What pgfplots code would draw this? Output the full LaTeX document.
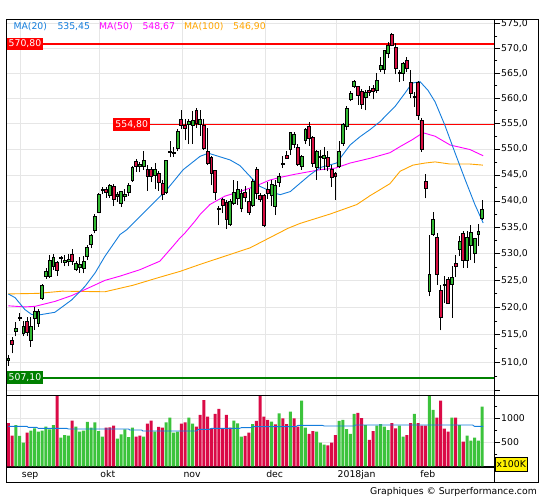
\documentclass[border=0pt]{standalone}
\usepackage{fontspec}
\setmainfont{DejaVu Sans}
\usepackage{pgfplots}
\pgfplotsset{compat=1.18}
\definecolor{cg}{RGB}{50,185,50}
\definecolor{cr}{RGB}{215,15,65}
\definecolor{vg}{RGB}{60,195,60}
\definecolor{vr}{RGB}{218,10,70}
\definecolor{ma20}{RGB}{20,125,220}
\definecolor{ma50}{RGB}{255,0,255}
\definecolor{ma100}{RGB}{255,165,0}
\definecolor{gridc}{RGB}{230,230,230}
\definecolor{lvlred}{RGB}{255,0,0}
\definecolor{lvlgreen}{RGB}{0,128,0}
\newcommand\tf{\fontsize{9.3}{11}\selectfont}
\newcommand\candle[6]{%
 \pgfmathsetmacro\xl{#1-0.38}\pgfmathsetmacro\xr{#1+0.38}%
 \addplot[black, line width=0.8pt] coordinates {(#1,#4) (#1,#3)};
 \addplot[draw=black, line width=0.7pt, fill=#6] coordinates {(\xl,#2) (\xr,#2) (\xr,#5) (\xl,#5)} -- cycle;
}
\begin{document}
\begin{tikzpicture}[x=1pt,y=1pt]
\path[use as bounding box] (0,0) rectangle (545,500);
% ---------------- price panel (logarithmic price scale) ----------------
\begin{axis}[at={(6.5pt,104.7pt)}, anchor=south west, scale only axis,
 width=487.8pt, height=376pt,
 y coord trafo/.code={\pgfmathparse{ln(#1)-6.3}},
 scaled y ticks=false,
 xmin=-0.479, xmax=129.26, ymin=504.15, ymax=575.88,
 axis line style={line width=1.2pt},
 xtick={3.3,24.2,46.3,68.3,87.3,109.3}, xticklabels={}, xmajorgrids,
 major x tick style={draw=none},
 ytick={505,510,515,520,525,530,535,540,545,550,555,560,565,570,575},
 yticklabels={{},{510,0},{515,0},{520,0},{525,0},{530,0},{535,0},{540,0},{545,0},{550,0},{555,0},{560,0},{565,0},{570,0},{575,0}},
 minor ytick={507.5,512.5,517.5,522.5,527.5,532.5,537.5,542.5,547.5,552.5,557.5,562.5,567.5,572.5},
 ymajorgrids, ytick pos=right, yticklabel pos=right, ytick align=outside,
 major tick length=5.7pt, minor tick length=3pt,
 tick style={black, line width=0.8pt},
 grid style={gridc, line width=0.8pt},
 yticklabel style={font=\tf, anchor=west, inner sep=1pt},
 clip=true]
\addplot[lvlred, line width=2.2pt] coordinates {(-1,570.8) (130,570.8)};
\addplot[lvlred, line width=1pt] coordinates {(27.8,554.8) (130,554.8)};
\addplot[lvlgreen, line width=2.2pt] coordinates {(-1,507.1) (130,507.1)};
\addplot[ma100, line width=0.9pt] coordinates {(0,522.5) (7.9,522.6) (14.3,523.0) (25.7,522.9) (33.2,524.1) (40.3,525.6) (45.7,526.7) (51.0,528.0) (64.3,531.1) (74.4,534.8) (77.6,535.7) (85.6,537.5) (92.7,539.3) (96.2,541.0) (101.5,543.3) (104.2,545.7) (107.6,546.9) (110.8,547.3) (113.5,547.5) (117.5,547.1) (122.8,547.1) (126.2,546.9)};
\addplot[ma50, line width=0.9pt] coordinates {(0,520.3) (4.4,520.1) (7.1,520.2) (12.4,521.1) (16.9,522.2) (21.3,523.6) (25.7,525.0) (29.7,525.8) (35.0,527.0) (40.3,528.6) (43.8,531.4) (45.7,533.0) (47.0,533.9) (49.6,536.1) (51.0,537.4) (53.6,539.3) (57.6,540.9) (61.6,541.8) (65.6,542.8) (69.6,544.0) (72.3,544.5) (76.2,545.1) (82.9,546.0) (86.9,546.3) (90.9,547.3) (96.2,548.2) (101.5,549.3) (104.2,550.5) (107.4,551.8) (110.3,553.2) (113.5,552.5) (117.5,550.8) (122.8,549.9) (126.3,548.7)};
\addplot[ma20, line width=0.9pt] coordinates {(0,522.5) (1.8,521.8) (4.4,519.6) (6.2,518.7) (8.0,518.6) (12.4,519.1) (16.9,521.4) (20.4,523.9) (23.1,526.4) (25.7,529.5) (29.7,533.6) (31.5,534.5) (38.6,539.6) (42.1,542.1) (46.5,546.0) (51.0,548.6) (53.2,549.2) (59.0,547.9) (61.6,546.8) (64.3,544.7) (66.9,542.8) (70.9,541.5) (72.3,541.2) (75.0,541.8) (77.6,543.4) (80.2,545.0) (82.9,546.4) (87.3,547.3) (90.9,550.8) (93.5,552.4) (96.2,553.8) (98.9,555.4) (101.5,557.4) (102.8,558.3) (105.5,561.0) (107.4,563.0) (109.5,563.3) (111.6,561.6) (113.5,559.3) (116.1,554.7) (118.8,549.3) (121.5,544.1) (124.1,539.3) (126.3,535.8)};
\candle{0}{510.4}{511.4}{509.4}{510.7}{cg}
\candle{1}{513.9}{514.6}{511.6}{513.2}{cr}
\candle{2}{515.6}{517.4}{514.7}{516.2}{cg}
\candle{3}{517.9}{519.0}{517.6}{518.2}{cg}
\candle{4}{515.2}{517.6}{514.7}{516.5}{cg}
\candle{5}{517.4}{518.3}{514.7}{515.5}{cr}
\candle{6}{513.9}{518.3}{512.8}{516.6}{cg}
\candle{7}{518.0}{520.1}{515.9}{519.2}{cg}
\candle{8}{517.1}{519.8}{516.5}{519.2}{cg}
\candle{9}{521.7}{524.4}{521.4}{524.0}{cg}
\candle{10}{525.8}{527.4}{525.3}{526.7}{cg}
\candle{11}{525.7}{529.7}{525.5}{528.8}{cg}
\candle{12}{527.6}{529.9}{527.0}{529.3}{cg}
\candle{13}{528.3}{528.6}{525.9}{526.8}{cr}
\candle{14}{529.1}{529.6}{528.2}{529.3}{cg}
\candle{15}{528.4}{529.8}{527.6}{528.8}{cg}
\candle{16}{528.6}{530.0}{527.6}{529.0}{cg}
\candle{17}{529.9}{530.8}{527.9}{528.5}{cr}
\candle{18}{527.1}{528.6}{526.8}{528.1}{cg}
\candle{19}{527.4}{529.4}{526.4}{528.0}{cg}
\candle{20}{527.2}{529.6}{526.3}{528.6}{cg}
\candle{21}{529.5}{531.6}{528.8}{531.2}{cg}
\candle{22}{531.8}{533.7}{531.0}{533.5}{cg}
\candle{23}{534.3}{537.5}{533.8}{537.1}{cg}
\candle{24}{537.9}{541.5}{537.6}{541.2}{cg}
\candle{25}{542.0}{542.6}{541.3}{542.3}{cg}
\candle{26}{542.2}{542.6}{540.6}{541.6}{cr}
\candle{27}{541.1}{543.2}{540.6}{543.0}{cg}
\candle{28}{542.7}{543.3}{539.0}{540.2}{cr}
\candle{29}{540.9}{541.8}{539.8}{541.2}{cg}
\candle{30}{539.6}{542.0}{538.8}{541.8}{cg}
\candle{31}{540.9}{542.2}{539.9}{541.2}{cg}
\candle{32}{541.7}{543.4}{540.9}{543.0}{cg}
\candle{33}{543.9}{546.7}{543.7}{546.4}{cg}
\candle{34}{547.6}{548.0}{545.6}{546.7}{cr}
\candle{35}{546.7}{547.4}{545.5}{547.1}{cg}
\candle{36}{546.7}{549.6}{546.0}{547.9}{cg}
\candle{37}{546.1}{546.9}{541.9}{544.7}{cr}
\candle{38}{546.1}{546.6}{543.7}{544.7}{cr}
\candle{39}{544.9}{547.2}{542.2}{546.0}{cg}
\candle{40}{545.3}{545.8}{542.0}{543.6}{cr}
\candle{41}{543.3}{544.1}{540.2}{541.2}{cr}
\candle{42}{541.7}{547.9}{541.4}{547.9}{cg}
\candle{43}{549.4}{551.6}{548.4}{549.6}{cg}
\candle{44}{549.2}{550.5}{548.5}{549.4}{cg}
\candle{45}{550.1}{553.9}{549.6}{553.5}{cg}
\candle{46}{555.9}{557.6}{553.9}{554.6}{cr}
\candle{47}{554.6}{555.9}{551.7}{554.0}{cr}
\candle{48}{554.8}{555.9}{551.0}{555.4}{cg}
\candle{49}{554.6}{557.4}{551.0}{555.6}{cg}
\candle{50}{557.6}{558.0}{554.2}{555.0}{cr}
\candle{51}{554.8}{557.6}{552.6}{555.9}{cg}
\candle{52}{554.6}{555.9}{549.8}{550.1}{cr}
\candle{53}{549.6}{554.2}{546.9}{547.3}{cr}
\candle{54}{548.4}{548.6}{543.0}{545.3}{cr}
\candle{55}{545.9}{545.9}{540.2}{541.7}{cr}
\candle{56}{538.5}{539.0}{535.4}{538.3}{cr}
\candle{57}{540.2}{540.6}{537.6}{539.2}{cr}
\candle{58}{539.8}{540.2}{534.6}{536.5}{cr}
\candle{59}{535.6}{540.4}{535.2}{539.9}{cg}
\candle{60}{539.6}{544.0}{539.2}{541.7}{cg}
\candle{61}{540.4}{543.8}{539.2}{542.2}{cg}
\candle{62}{538.6}{542.2}{537.8}{541.4}{cg}
\candle{63}{541.7}{542.8}{539.8}{540.7}{cr}
\candle{64}{540.0}{542.2}{537.4}{537.9}{cr}
\candle{65}{539.2}{544.2}{538.8}{543.7}{cg}
\candle{66}{546.1}{546.6}{540.4}{541.5}{cr}
\candle{67}{541.1}{541.5}{539.8}{540.2}{cr}
\candle{68}{541.0}{541.4}{535.0}{535.4}{cr}
\candle{69}{542.2}{543.6}{540.4}{541.4}{cr}
\candle{70}{541.1}{544.1}{539.0}{543.2}{cg}
\candle{71}{539.0}{544.1}{537.3}{543.0}{cg}
\candle{72}{543.6}{545.4}{542.7}{544.7}{cg}
\candle{73}{547.1}{548.7}{546.3}{547.3}{cg}
\candle{74}{548.7}{549.7}{548.1}{548.2}{cr}
\candle{75}{549.9}{553.2}{548.9}{553.2}{cg}
\candle{76}{550.9}{553.3}{550.3}{552.8}{cg}
\candle{77}{550.3}{551.0}{546.8}{547.1}{cr}
\candle{78}{546.7}{548.9}{546.0}{548.5}{cg}
\candle{79}{551.6}{554.2}{551.0}{553.8}{cg}
\candle{80}{554.4}{555.3}{550.6}{552.1}{cr}
\candle{81}{552.3}{552.6}{546.6}{547.2}{cr}
\candle{82}{546.4}{549.9}{544.1}{549.6}{cg}
\candle{83}{548.4}{549.9}{546.0}{548.5}{cg}
\candle{84}{548.3}{550.4}{545.9}{548.8}{cg}
\candle{85}{548.4}{549.7}{545.7}{546.7}{cr}
\candle{86}{546.0}{547.0}{542.7}{544.6}{cr}
\candle{87}{545.3}{545.5}{540.2}{544.7}{cr}
\candle{88}{546.7}{551.6}{546.3}{549.5}{cg}
\candle{89}{551.2}{555.2}{550.6}{554.8}{cg}
\candle{90}{554.4}{558.4}{553.8}{558.1}{cg}
\candle{91}{559.8}{561.4}{559.4}{561.0}{cg}
\candle{92}{562.3}{563.7}{562.0}{563.3}{cg}
\candle{93}{562.3}{562.5}{558.7}{560.6}{cr}
\candle{94}{561.4}{561.8}{557.9}{558.9}{cr}
\candle{95}{560.1}{561.6}{557.6}{561.1}{cg}
\candle{96}{561.6}{562.4}{560.5}{561.1}{cr}
\candle{97}{561.9}{562.7}{559.8}{561.4}{cr}
\candle{98}{561.5}{565.1}{561.0}{563.5}{cg}
\candle{99}{565.8}{568.3}{565.2}{566.5}{cg}
\candle{100}{565.7}{569.6}{564.9}{569.6}{cg}
\candle{101}{569.0}{571.3}{568.0}{570.7}{cg}
\candle{102}{572.8}{573.1}{570.4}{570.7}{cr}
\candle{103}{570.1}{571.0}{564.8}{566.0}{cr}
\candle{104}{565.0}{565.7}{563.2}{565.1}{cg}
\candle{105}{565.0}{567.3}{563.4}{566.9}{cg}
\candle{106}{567.5}{568.2}{565.2}{566.0}{cr}
\candle{107}{563.2}{565.7}{560.0}{561.0}{cr}
\candle{108}{560.3}{561.2}{558.3}{560.2}{cr}
\candle{109}{563.2}{563.4}{555.7}{556.6}{cr}
\candle{110}{555.7}{556.0}{549.5}{549.9}{cr}
\candle{111}{543.8}{545.1}{540.5}{542.4}{cr}
\candle{112}{523.0}{533.6}{522.1}{526.1}{cg}
\candle{113}{533.7}{537.8}{533.3}{536.4}{cg}
\candle{114}{533.0}{533.9}{524.2}{526.1}{cr}
\candle{115}{523.1}{524.2}{515.8}{518.2}{cr}
\candle{116}{524.1}{525.9}{520.9}{524.3}{cg}
\candle{117}{525.2}{525.6}{520.6}{520.7}{cr}
\candle{118}{524.2}{527.7}{518.1}{525.6}{cg}
\candle{119}{528.2}{529.7}{525.6}{527.7}{cr}
\candle{120}{530.7}{533.4}{529.5}{532.4}{cg}
\candle{121}{533.9}{534.3}{527.4}{528.7}{cr}
\candle{122}{528.7}{534.3}{527.4}{533.0}{cg}
\candle{123}{531.5}{535.4}{528.8}{534.0}{cg}
\candle{124}{530.1}{532.8}{528.2}{532.8}{cg}
\candle{125}{533.7}{535.6}{531.4}{534.2}{cg}
\candle{126}{536.6}{540.2}{536.4}{538.3}{cg}
\end{axis}
% ---------------- volume panel ----------------
\begin{axis}[at={(6.5pt,33pt)}, anchor=south west, scale only axis,
 width=487.8pt, height=71.7pt,
 xmin=-0.479, xmax=129.26, ymin=-14.6, ymax=1479.2,
 scaled y ticks=false,
 axis line style={line width=1.2pt},
 xtick={3.3,24.2,46.3,68.3,87.3,109.3},
 xticklabels={sep,okt,nov,dec,2018jan,feb},
 xticklabel style={font=\tf, anchor=base west, inner sep=0pt, yshift=-10pt, xshift=1pt},
 xmajorgrids, major x tick style={draw=none},
 ytick={500,1000}, yticklabels={500,1000}, minor ytick={250,750,1250},
 ymajorgrids, ytick pos=right, yticklabel pos=right, ytick align=outside,
 major tick length=5.7pt, minor tick length=3pt,
 tick style={black, line width=0.8pt},
 grid style={gridc, line width=0.8pt},
 yticklabel style={font=\tf, anchor=west, inner sep=1pt},
 clip=true]
\addplot[ybar, bar width=0.8, bar shift=0pt, fill=vr, draw=none] coordinates {
(0,902) (1,638) (5,700) (13,1500) (17,950) (26,805) (27,812) (28,846) (34,617) (35,638) (37,888) (38,950) (40,819) (41,805) (46,888) (47,916) (50,825) (51,1069) (52,1381) (53,1034) (54,791) (55,1090) (56,1194) (57,791) (58,1069) (59,805) (63,632) (64,700) (66,944) (67,1500) (68,1034) (69,965) (71,874) (73,999) (74,881) (76,1000) (77,825) (80,673) (81,735) (85,437) (86,493) (87,652) (93,1111) (94,1006) (96,548) (97,735) (102,902) (103,791) (106,652) (107,902) (109,902) (110,846) (111,846) (114,1013) (115,1367) (116,784) (117,721) (119,1013) (121,513)};
\addplot[ybar, bar width=0.8, bar shift=0pt, fill=vg, draw=none] coordinates {
(2,860) (3,632) (4,492) (6,742) (7,791) (8,721) (9,742) (10,825) (11,770) (12,860) (14,596) (15,652) (16,638) (18,825) (19,721) (20,742) (21,923) (22,805) (23,916) (24,735) (25,617) (29,575) (30,666) (31,770) (32,610) (33,805) (36,617) (39,721) (42,916) (43,1012) (44,700) (45,721) (48,1012) (49,888) (60,950) (61,895) (62,617) (65,881) (70,930) (72,1103) (75,1138) (78,1367) (79,805) (82,721) (83,493) (84,451) (88,944) (89,965) (90,777) (91,673) (92,1090) (95,860) (98,846) (99,881) (100,825) (101,756) (104,846) (105,617) (108,1090) (112,1500) (113,1173) (118,1013) (120,860) (122,638) (123,534) (124,596) (125,534) (126,1242)};
\addplot[ma20, line width=0.9pt] coordinates {(0,832) (5,832) (5.3,812) (7.5,812) (8,791) (15.5,791) (16,777) (32,777) (32.3,756) (35.5,756) (35.8,735) (50,735) (50.5,770) (53.5,770) (54,791) (61.5,791) (62,805) (64.5,805) (65,826) (76.5,826) (77,853) (83.5,853) (84,840) (92,840) (92.3,860) (123.5,860) (124,832) (126.3,832)};
\end{axis}
% ---------------- frame and annotations ----------------
\draw[line width=1.2pt] (6.5,17.7) rectangle (538.7,480.7);
\draw[line width=1.2pt] (494.3,17.7) -- (494.3,480.7);
\draw[line width=1.2pt] (6.5,104.7) -- (538.7,104.7);
\node[fill=lvlred, text=white, font=\tf, inner sep=0pt, minimum width=36.6pt, minimum height=12.3pt] at (25,456.0) {570,80};
\node[fill=lvlred, text=white, font=\tf, inner sep=0pt, minimum width=36.6pt, minimum height=13pt] at (131.7,375.6) {554,80};
\node[fill=lvlgreen, text=white, font=\tf, inner sep=0pt, minimum width=36.6pt, minimum height=13pt] at (25,122.2) {507,10};
\node[anchor=base west, font=\tf, text=ma20, inner sep=0pt] at (13.3,470) {MA(20)};
\node[anchor=base west, font=\tf, text=ma20, inner sep=0pt] at (57.3,470) {535,45};
\node[anchor=base west, font=\tf, text=ma50, inner sep=0pt] at (99,470) {MA(50)};
\node[anchor=base west, font=\tf, text=ma50, inner sep=0pt] at (142.3,470) {548,67};
\node[anchor=base west, font=\tf, text=ma100, inner sep=0pt] at (184,470) {MA(100)};
\node[anchor=base west, font=\tf, text=ma100, inner sep=0pt] at (233,470) {546,90};
\node[fill=yellow, draw=black, line width=0.6pt, font=\tf, inner sep=0pt, minimum width=32pt, minimum height=14pt] at (511.2,36.2) {x100K};
\node[anchor=base east, font=\tf, inner sep=0pt] at (537,5.6) {Graphiques © Surperformance.com};
\end{tikzpicture}
\end{document}
